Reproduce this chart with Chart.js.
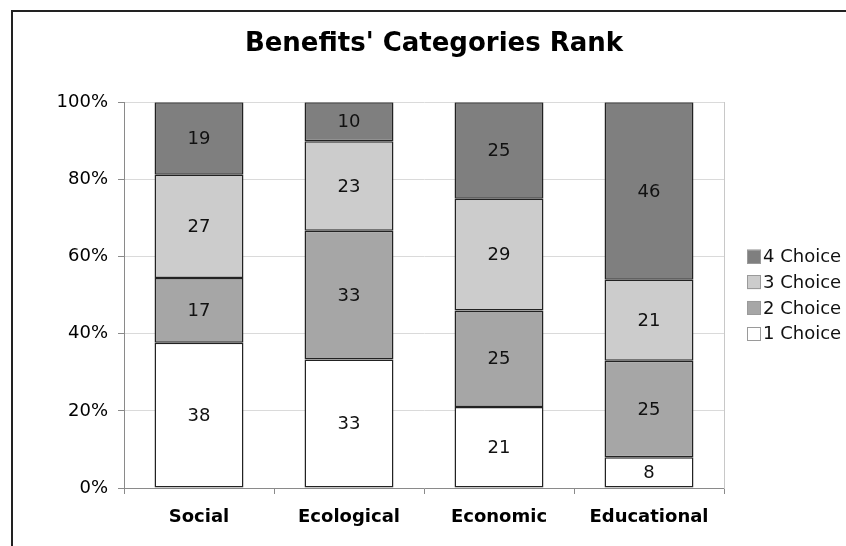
<!DOCTYPE html>
<html>
<head>
<meta charset="utf-8">
<title>Benefits' Categories Rank</title>
<script src="https://cdn.jsdelivr.net/npm/chart.js@4/dist/chart.umd.min.js"></script>
<style>
  html, body { margin: 0; padding: 0; background: #ffffff; }
  #wrap { width: 846px; height: 546px; }
</style>
</head>
<body>
<div id="wrap"><canvas id="chart" width="846" height="546"></canvas></div>
<script>
// Number of respondents per rank, for each benefit category
const categories = ['Social', 'Ecological', 'Economic', 'Educational'];
const choice1 = [38, 33, 21, 8];
const choice2 = [17, 33, 25, 25];
const choice3 = [27, 23, 29, 21];
const choice4 = [19, 10, 25, 46];
const seriesNames = ['1 Choice', '2 Choice', '3 Choice', '4 Choice'];
const seriesColors = ['#ffffff', '#a6a6a6', '#cccccc', '#7f7f7f'];
const yTicks = [0, 20, 40, 60, 80, 100];

const counts = [choice1, choice2, choice3, choice4];
const totals = categories.map((_, i) => counts.reduce((s, arr) => s + arr[i], 0));
// each segment is its share of the category total (100% stacked)
const shares = counts.map(arr => arr.map((v, i) => v / totals[i] * 100));

const FONT = "'DejaVu Sans', Verdana, sans-serif";

// white background and outer frame around the whole figure
const framePlugin = {
  id: 'frame',
  beforeDraw(chart) {
    const ctx = chart.ctx;
    ctx.save();
    ctx.fillStyle = '#ffffff';
    ctx.fillRect(0, 0, chart.width, chart.height);
    ctx.strokeStyle = '#222222';
    ctx.lineWidth = 2;
    ctx.strokeRect(12, 11, chart.width + 40, chart.height + 40);
    ctx.restore();
  }
};

// count written in the middle of each segment
const valueLabels = {
  id: 'valueLabels',
  afterDatasetsDraw(chart) {
    const ctx = chart.ctx;
    ctx.save();
    ctx.font = '18px ' + FONT;
    ctx.fillStyle = '#111111';
    ctx.textAlign = 'center';
    ctx.textBaseline = 'middle';
    chart.data.datasets.forEach((ds, di) => {
      const meta = chart.getDatasetMeta(di);
      meta.data.forEach((el, i) => {
        const y = (el.y + el.base) / 2;
        ctx.fillText(String(counts[di][i]), el.x, y + 1);
      });
    });
    ctx.restore();
  }
};

// legend on the right, highest rank on top
const sideLegend = {
  id: 'sideLegend',
  afterDraw(chart) {
    const a = chart.chartArea, ctx = chart.ctx;
    const step = 25.7, box = 14;
    const n = seriesNames.length;
    const cy = (a.top + a.bottom) / 2;
    const y0 = cy - step * (n - 1) / 2;
    const x = a.right + 23;
    ctx.save();
    ctx.font = '18px ' + FONT;
    ctx.textBaseline = 'middle';
    ctx.textAlign = 'left';
    for (let k = 0; k < n; k++) {
      const i = n - 1 - k;
      const y = y0 + k * step;
      ctx.fillStyle = seriesColors[i];
      ctx.fillRect(x, y - box / 2, box, box);
      ctx.strokeStyle = '#9a9a9a';
      ctx.lineWidth = 1;
      ctx.strokeRect(x + 0.5, Math.round(y - box / 2) + 0.5, box - 1, box - 1);
      ctx.fillStyle = '#111111';
      ctx.fillText(seriesNames[i], x + box + 2, y + 1);
    }
    ctx.restore();
  }
};

new Chart(document.getElementById('chart'), {
  type: 'bar',
  data: {
    labels: categories,
    datasets: seriesNames.map((name, i) => ({
      label: name,
      data: shares[i],
      backgroundColor: seriesColors[i],
      borderColor: '#222222',
      borderWidth: 1.5,
      borderSkipped: false,
      barPercentage: 0.593,
      categoryPercentage: 1
    }))
  },
  options: {
    responsive: false,
    animation: false,
    events: [],
    layout: { padding: { left: 22, right: 0, top: 0, bottom: 0 } },
    plugins: {
      legend: { display: false },
      tooltip: { enabled: false },
      title: {
        display: true,
        text: "Benefits' Categories Rank",
        color: '#000000',
        font: { family: FONT, size: 26, weight: 'bold' },
        padding: { top: 29, bottom: 42 }
      }
    },
    scales: {
      x: {
        stacked: true,
        offset: true,
        grid: { display: true, drawOnChartArea: false, drawTicks: true, tickLength: 6, color: '#8a8a8a', offset: true },
        border: { display: true, color: '#8a8a8a', width: 1 },
        ticks: { color: '#000000', font: { family: FONT, size: 18, weight: 'bold' }, padding: 13, maxRotation: 0 },
        afterFit(scale) { scale.height = 58; }
      },
      y: {
        stacked: true,
        min: 0,
        max: 100,
        afterBuildTicks(scale) { scale.ticks = yTicks.map(v => ({ value: v })); },
        grid: { color: '#dadada', tickColor: '#8a8a8a', tickLength: 6 },
        border: { display: true, color: '#8a8a8a', width: 1 },
        ticks: { color: '#000000', font: { family: FONT, size: 18 }, padding: 10, callback: v => v + '%' },
        afterFit(scale) { scale.width = 102; }
      },
      // right-hand edge of the plot frame, with room for the legend beside it
      yRight: {
        position: 'right',
        min: 0,
        max: 100,
        grid: { display: false, drawTicks: false },
        border: { display: true, color: '#c8c8c8', width: 1 },
        ticks: { display: false },
        afterFit(scale) { scale.width = 122; }
      }
    }
  },
  plugins: [framePlugin, valueLabels, sideLegend]
});
</script>
</body>
</html>
